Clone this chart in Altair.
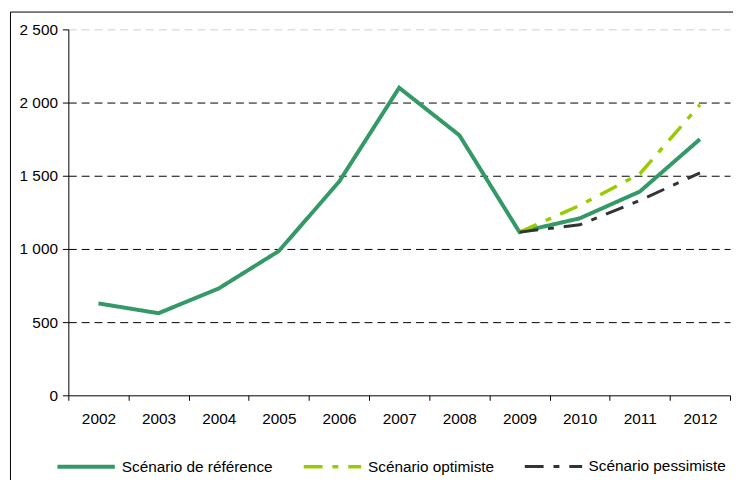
import altair as alt
import pandas as pd

years = ["2002", "2003", "2004", "2005", "2006", "2007", "2008", "2009", "2010", "2011", "2012"]
reference = [628, 561, 730, 986, 1459, 2101, 1777, 1115, 1209, 1392, 1750]
opt_years = ["2009", "2010", "2011", "2012"]
optimist = [1115, 1297, 1513, 1985]
pessimist = [1115, 1165, 1331, 1520]

names = ["Scénario de référence", "Scénario optimiste", "Scénario pessimiste"]
colors = ["#339966", "#99CC00", "#333333"]

rows = []
for y, v in zip(years, reference):
    rows.append({"year": y, "value": v, "scenario": names[0]})
for y, v in zip(opt_years, optimist):
    rows.append({"year": y, "value": v, "scenario": names[1]})
for y, v in zip(opt_years, pessimist):
    rows.append({"year": y, "value": v, "scenario": names[2]})
df = pd.DataFrame(rows)

FONT = "Liberation Sans"
dash = [19, 10, 6, 10]

lines = alt.Chart(df).mark_line(strokeCap="butt", strokeJoin="miter").encode(
    x=alt.X("year:O", bandPosition=0.5,
            scale=alt.Scale(type="band", domain=years, paddingInner=0, paddingOuter=0),
            axis=alt.Axis(title=None, labelAngle=0, tickBand="extent", tickSize=5,
                          labelPadding=11, domainColor="#000", tickColor="#000",
                          grid=False, zindex=1)),
    y=alt.Y("value:Q", scale=alt.Scale(domain=[0, 2500], nice=False),
            axis=alt.Axis(title=None, values=[0, 500, 1000, 1500, 2000, 2500],
                          labelExpr="replace(format(datum.value, ','), ',', ' ')",
                          tickSize=6, labelPadding=5, domainColor="#000", tickColor="#000",
                          grid=True, gridDash=[8, 5],
                          gridOpacity={"condition": {"test": "datum.value === 0", "value": 0},
                                       "value": 1},
                          gridColor={"condition": {"test": "datum.value === 2500", "value": "#d0d0d0"},
                                     "value": "#000000"})),
    color=alt.Color("scenario:N", scale=alt.Scale(domain=names, range=colors),
                    legend=alt.Legend(title=None, orient="none", direction="horizontal",
                                      legendX=-13, legendY=411, symbolType="stroke",
                                      symbolSize=3364, columnPadding=24, labelOffset=5,
                                      padding=0)),
    strokeDash=alt.StrokeDash("scenario:N", scale=alt.Scale(domain=names, range=[[1, 0], dash, dash])),
    strokeWidth=alt.StrokeWidth("scenario:N", scale=alt.Scale(domain=names, range=[4, 3, 3])),
    detail="scenario:N",
)

frame = alt.Chart(alt.Data(values=[{}])).mark_rect(fill=None, stroke="#000", strokeWidth=1).encode(
    x=alt.value(-58.5), x2=alt.value(720), y=alt.value(-17.5), y2=alt.value(520)
)

chart = alt.layer(frame, lines).properties(
    width=669, height=370,
    autosize=alt.AutoSizeParams(type="none"),
    padding={"left": 61, "top": 19, "right": 3, "bottom": 83},
).configure_view(stroke=None).configure_axis(
    labelFont=FONT, labelFontSize=15.5, labelColor="#000"
).configure_legend(
    labelFont=FONT, labelFontSize=15.5, labelColor="#000", symbolStrokeWidth=4
)

chart.save("out.html", embed_options={"renderer": "svg", "actions": False})
